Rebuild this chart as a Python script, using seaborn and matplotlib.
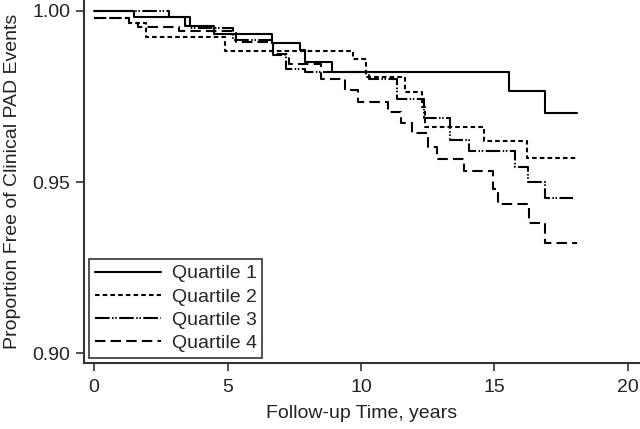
import matplotlib
matplotlib.use("Agg")
import matplotlib.pyplot as plt
import seaborn as sns
import pandas as pd

# Data (Kaplan-Meier step curves)
q1_t = [0, 1.5, 3.4, 4.5, 6.65, 7.7, 7.9, 8.9, 15.55, 16.9, 18.1]
q1_s = [1.000, 0.9983, 0.9955, 0.9932, 0.9905, 0.9886, 0.985, 0.9823, 0.9767, 0.9702, 0.9702]

q2_t = [0, 1.3, 1.95, 4.9, 9.7, 10.2, 11.65, 12.3, 12.4, 14.6, 16.2, 18.1]
q2_s = [0.998, 0.9964, 0.9925, 0.9883, 0.986, 0.9808, 0.9764, 0.972, 0.9662, 0.962, 0.9571, 0.9571]

q3_t = [0, 2.8, 3.6, 5.2, 6.7, 7.2, 7.9, 10.3, 11.33, 12.35, 13.35, 14.05, 15.77, 16.25, 16.9, 17.95]
q3_s = [1.000, 0.9983, 0.995, 0.9915, 0.987, 0.983, 0.9823, 0.980, 0.9742, 0.9687, 0.9623, 0.959, 0.9545, 0.950, 0.9453, 0.9453]

q4_t = [0, 1.3, 1.65, 3.2, 5.3, 6.7, 7.3, 8.5, 9.4, 9.9, 11.0, 11.5, 11.9, 12.5, 12.85, 13.85, 14.95, 15.15, 16.3, 16.9, 18.1]
q4_s = [0.998, 0.9964, 0.9954, 0.994, 0.991, 0.9875, 0.9845, 0.980, 0.977, 0.9735, 0.9706, 0.9672, 0.9642, 0.9603, 0.9566, 0.9533, 0.948, 0.9436, 0.938, 0.9322, 0.9322]

labels = ["Quartile 1", "Quartile 2", "Quartile 3", "Quartile 4"]
x_ticks = [0, 5, 10, 15, 20]
y_ticks = [0.90, 0.95, 1.00]
y_ticklabels = ["0.90", "0.95", "1.00"]

sns.set_style("ticks")
plt.rcParams["font.family"] = ["Liberation Sans", "DejaVu Sans"]

fig = plt.figure(figsize=(6.4, 4.29), dpi=100)
ax = fig.add_axes([84 / 640, 66 / 429, 556 / 640, 363 / 429])

styles = [
    "-",
    (0, (2.2, 1.5)),
    (0, (7, 1.2, 0.7, 0.8, 0.7, 1.2)),
    (0, (5, 2.5)),
]
series = [(q1_t, q1_s), (q2_t, q2_s), (q3_t, q3_s), (q4_t, q4_s)]

for (t, s), lab, ls in zip(series, labels, styles):
    df = pd.DataFrame({"t": t, "s": s})
    sns.lineplot(data=df, x="t", y="s", ax=ax, estimator=None, sort=False,
                 drawstyle="steps-post", color="black", lw=1.5,
                 linestyle=ls, label=lab)

ax.set_xlim(-0.375, 20.45)
ax.set_ylim(0.8971, 1.0032)
ax.set_xticks(x_ticks)
ax.set_xticklabels([str(v) for v in x_ticks])
ax.set_yticks(y_ticks)
ax.set_yticklabels(y_ticklabels)
ax.tick_params(axis="both", labelsize=14, length=5.8, width=1.2, color="#333333",
               direction="out", labelcolor="#222222")
ax.tick_params(axis="x", pad=6)
ax.tick_params(axis="y", pad=4)

for side in ["top", "right"]:
    ax.spines[side].set_visible(False)
for side in ["left", "bottom"]:
    ax.spines[side].set_color("#333333")
    ax.spines[side].set_linewidth(1.5)

ax.set_xlabel("Follow-up Time, years", fontsize=14, color="#222222", labelpad=6)
ax.set_ylabel("Proportion Free of Clinical PAD Events", fontsize=14, color="#222222", labelpad=8)

leg = ax.legend(loc="lower left", bbox_to_anchor=(0.009, 0.014), borderaxespad=0,
                frameon=True, fancybox=False, edgecolor="#333333", fontsize=14,
                handlelength=3.4, handletextpad=0.55, labelspacing=0.29,
                borderpad=0.3)
leg.get_frame().set_linewidth(1.2)
leg.get_frame().set_alpha(1)

fig.savefig("out.png", dpi=100)
